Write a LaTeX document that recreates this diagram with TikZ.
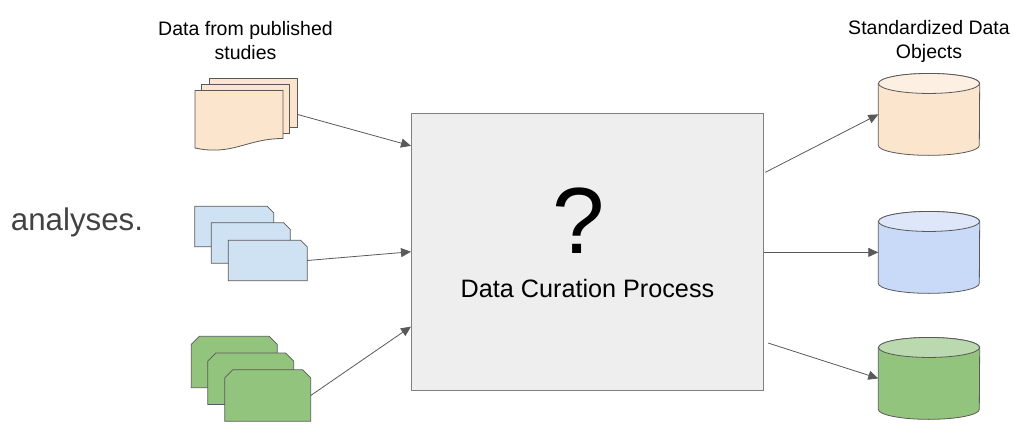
\documentclass[tikz,border=0pt]{standalone}
\usepackage{fontspec}
\setmainfont{Liberation Sans}
\usetikzlibrary{arrows.meta}
\definecolor{lineGray}{HTML}{595959}
\definecolor{peach}{HTML}{FCE5CD}
\definecolor{peachTop}{HTML}{FDEFE2}
\definecolor{paleBlue}{HTML}{CFE2F3}
\definecolor{dbBlue}{HTML}{C9DAF8}
\definecolor{dbBlueTop}{HTML}{DDE7F9}
\definecolor{leaf}{HTML}{93C47D}
\definecolor{leafTop}{HTML}{BBD9AE}
\tikzset{
  flow/.style={draw=lineGray,line width=.8pt,-{Triangle[length=10pt,width=9pt]}},
  outline/.style={draw=lineGray,line width=.8pt},
  page/.style={outline,fill=peach,inner sep=0pt,minimum width=88pt,minimum height=49pt},
  bluearea/.style={inner sep=0pt,minimum width=78.5pt,minimum height=40pt},
  greenarea/.style={inner sep=0pt,minimum width=85.5pt,minimum height=51pt},
  storearea/.style={inner sep=0pt,minimum width=101pt,minimum height=81.5pt},
  caption/.style={align=center,font=\fontsize{19.5}{24}\selectfont,text=black}
}
% name, position
\newcommand{\bluecard}[2]{
\node[bluearea] (#1) at (#2) {};
\draw[outline,fill=paleBlue] (#1.south west) -- (#1.north west) -- ([xshift=-6.5pt]#1.north east)
  -- ([yshift=-6.5pt]#1.north east) -- (#1.south east) -- cycle;
}
\newcommand{\greencard}[2]{
\node[greenarea] (#1) at (#2) {};
\draw[outline,fill=leaf] (#1.south west) -- ([yshift=-8pt]#1.north west) -- ([xshift=8pt]#1.north west)
  -- ([xshift=-8pt]#1.north east) -- ([yshift=-8pt]#1.north east) -- (#1.south east) -- cycle;
}
% name, position, body colour, top colour
\newcommand{\datastore}[4]{
\node[storearea] (#1) at (#2) {};
\draw[outline,fill=#3] ([yshift=-10pt]#1.north west) -- ([yshift=10pt]#1.south west)
  arc[start angle=180,end angle=360,x radius=50.5pt,y radius=10pt] -- ([yshift=-10pt]#1.north east)
  arc[start angle=0,end angle=180,x radius=50.5pt,y radius=10pt] -- cycle;
\draw[outline,fill=#4] ([yshift=-10pt]#1.north) ellipse [x radius=50.5pt,y radius=10pt];
}
\begin{document}
\begin{tikzpicture}[x=1pt,y=-1pt]
\useasboundingbox (0,0) rectangle (1026,447);
% source documents
\node[page] (pageback) at (253,102.5) {};
\node[page] (pagemid) at (245.5,108.5) {};
\draw[outline,fill=peach] (195,90.5) -- (283,90.5) -- (283,138.5)
  .. controls (255,138.5) and (240,149) .. (218,150) .. controls (207,150.5) and (200,149) .. (195,148) -- cycle;
\bluecard{blueone}{234.25,226.5}
\bluecard{bluetwo}{250.75,243}
\bluecard{bluethree}{267.75,260.5}
\greencard{greenone}{234.25,362}
\greencard{greentwo}{250.75,378.75}
\greencard{greenthree}{267.75,395.5}
% curation box
\node[draw=gray,line width=1pt,fill=black!6.5,minimum width=351.5pt,minimum height=276.5pt,inner sep=0pt] (curation) at (587.25,251.75) {};
\node[font=\fontsize{94}{94}\selectfont] (question) at (578.5,220.5) {?};
\node[font=\fontsize{25.2}{28}\selectfont] (curationlabel) at (587.5,288) {Data Curation Process};
% data objects
\datastore{objpeach}{929,114.4}{peach}{peachTop}
\datastore{objblue}{929,252.4}{dbBlue}{dbBlueTop}
\datastore{objgreen}{929,378.4}{leaf}{leafTop}
% texts
\node[caption] (srctitle) at (245.5,41) {Data from published\\studies};
\node[caption] (objtitle) at (929,41) {Standardized Data\\Objects};
\node[font=\fontsize{31.3}{36}\selectfont,text=black!74] (stray) at (77,222.5) {analyses.};
% connectors
\draw[flow] (pageback.-15) -- (curation.149);
\draw[flow] (bluethree.east) -- (curation.180);
\draw[flow] (greenthree.east) -- (curation.203);
\draw[flow,shorten <=2pt] (curation.24) -- (objpeach.west);
\draw[flow] (curation.east |- objblue.west) -- (objblue.west);
\draw[flow,shorten <=5pt] (curation.-27) -- (objgreen.west);
\end{tikzpicture}
\end{document}
